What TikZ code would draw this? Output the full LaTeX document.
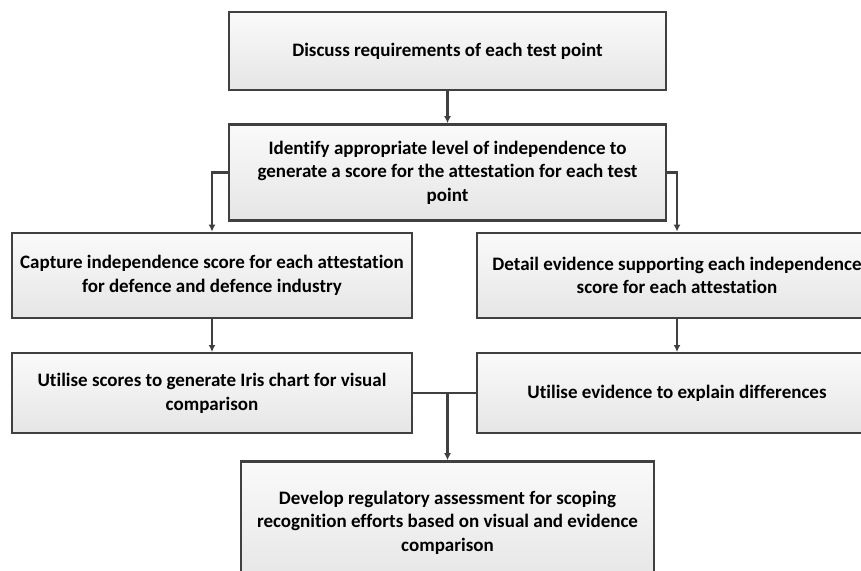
\documentclass[tikz,border=0pt]{standalone}
\usepackage{fontspec}
\setmainfont{Carlito}[Ligatures=NoCommon]
\usetikzlibrary{shapes,arrows,arrows.meta,positioning}
\definecolor{edgegray}{HTML}{404040}
\tikzset{
    %Define standard arrow tip
    >={Latex[length=7pt,width=7pt]},
    %Define style for boxes
    block/.style={
           rectangle,
           draw=edgegray,
           line width=2.4pt,
           top color=black!2,
           bottom color=black!10,
           inner sep=0pt,
           font=\fontsize{19}{23.5}\selectfont\bfseries,
           text width=395pt,
           minimum width=400pt,
           minimum height=85pt,
           align=flush center},
    wideblock/.style={
           block,
           text width=415pt,
           minimum width=437pt},
    % Define arrow style
    arrow/.style={
           ->,
           draw=edgegray,
           line width=2.2pt,
           }
}
\begin{document}
\begin{tikzpicture}[x=1pt, y=1pt]
    \useasboundingbox (0,0) rectangle (861,-570);
    \clip (0,0) rectangle (861,-570);
    \node [wideblock, minimum height=78pt] (disc) at (447.5,-51) {Discuss requirements of each test point};
    \node [wideblock, minimum height=96pt, below=32pt of disc] (ident) {Identify appropriate level of independence to generate a score for the attestation for each test point};
    \node [block, below=10pt of ident, xshift=-235.5pt] (capt) {Capture independence score for each attestation for defence and defence industry};
    \node [block, below=10pt of ident, xshift=229.5pt] (detail) {Detail evidence supporting each independence score for each attestation};
    \node [block, minimum height=80pt, below=33pt of capt] (util) {Utilise scores to generate Iris chart for visual comparison};
    \node [block, minimum height=80pt, below=33pt of detail] (expl) {Utilise evidence to explain differences};
    \coordinate (merge) at (util.east -| ident.south);
    \node [block, text width=400pt, minimum width=413pt, minimum height=122pt, below=67pt of merge] (dev) {Develop regulatory assessment for scoping recognition efforts based on visual and evidence comparison};

	\path (disc) edge[arrow] (ident);
	\draw[arrow] (ident.west) -| (capt.north);
	\draw[arrow] (ident.east) -| (detail.north);
	\path (capt) edge[arrow] (util);
	\path (detail) edge[arrow] (expl);
	\draw[edgegray, line width=2.2pt] (util.east) -- (expl.west);
	\draw[arrow] (merge) -- (dev.north);
\end{tikzpicture}
\end{document}
